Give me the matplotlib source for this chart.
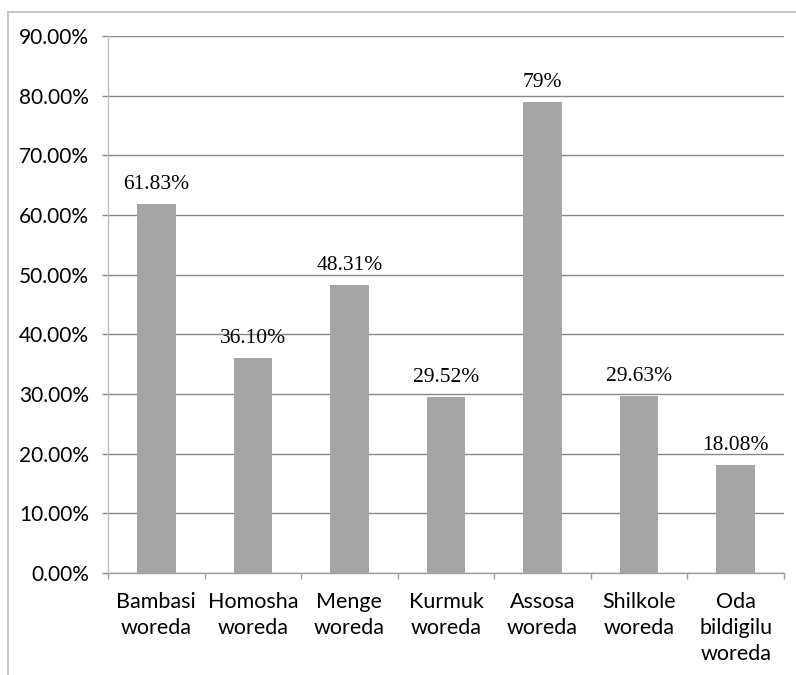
import matplotlib.pyplot as plt
from matplotlib.lines import Line2D
from matplotlib.ticker import FixedLocator
import numpy as np

# data
woredas = ['Bambasi\nworeda', 'Homosha\nworeda', 'Menge\nworeda', 'Kurmuk\nworeda',
           'Assosa\nworeda', 'Shilkole\nworeda', 'Oda\nbildigilu\nworeda']
values = [61.83, 36.10, 48.31, 29.52, 79, 29.63, 18.08]
value_labels = ['61.83%', '36.10%', '48.31%', '29.52%', '79%', '29.63%', '18.08%']
yticks = [0, 10, 20, 30, 40, 50, 60, 70, 80, 90]

fig = plt.figure(figsize=(7.96, 6.75), dpi=100)
ax = fig.add_axes([108/796, 102/675, (784-108)/796, (573-36)/675])

x = np.arange(len(values))
ax.bar(x, values, width=0.4, color='#a5a5a5', zorder=3)

for xi, v, lab in zip(x, values, value_labels):
    ax.annotate(lab, (xi, v), xytext=(0, 7), textcoords='offset points',
                ha='center', va='bottom', fontsize=15.5, family='Liberation Serif',
                color='black')

ax.set_xlim(-0.5, len(values) - 0.5)
ax.set_ylim(0, 90)
ax.set_yticks(yticks)
ax.set_yticklabels(['%.2f%%' % t for t in yticks], family='Lato', fontsize=15)
ax.yaxis.grid(True, color='#878787', linewidth=1, zorder=0)
ax.tick_params(axis='y', length=4.5, width=1, color='#878787', pad=9)

ax.set_xticks(x)
ax.set_xticklabels(woredas, family='Lato', fontsize=15.5, linespacing=1.35)
ax.xaxis.set_minor_locator(FixedLocator(np.arange(-0.5, len(values), 1.0)))
ax.tick_params(axis='x', which='major', length=0, pad=14)
ax.tick_params(axis='x', which='minor', length=4.5, width=1, color='#a0a0a0')

for s in ['top', 'right']:
    ax.spines[s].set_visible(False)
ax.spines['left'].set_color('#bfbfbf')
ax.spines['bottom'].set_color('#a0a0a0')
ax.spines['left'].set_linewidth(1)
ax.spines['bottom'].set_linewidth(1)

# outer chart frame (cropped on right and bottom)
fig.add_artist(Line2D([8/796, 1], [1 - 12/675, 1 - 12/675], color='#bebebe', lw=1.2))
fig.add_artist(Line2D([8/796, 8/796], [0, 1 - 12/675], color='#bebebe', lw=1.2))

fig.savefig('out.png', dpi=100)
